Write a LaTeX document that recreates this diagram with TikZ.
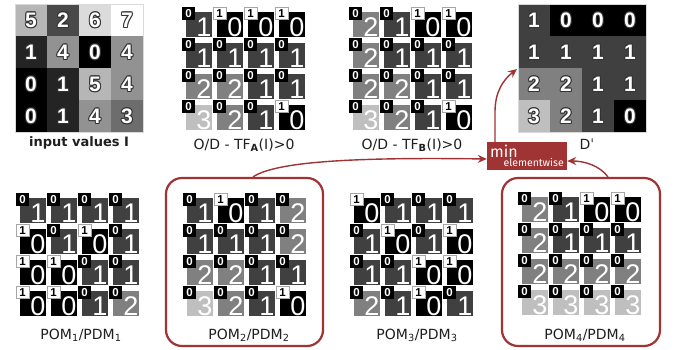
\documentclass[tikz,border=0pt]{standalone}
\usepackage{fontspec}
\setmainfont{DejaVu Sans}
\newfontfamily\arialf{Liberation Sans}
\newfontfamily\firaf{Fira Sans}
\usetikzlibrary{arrows.meta}
\definecolor{pomred}{RGB}{160,52,52}
\definecolor{lbltext}{gray}{0.12}

\tikzset{
  dnum/.style={font=\arialf\fontsize{27}{27}\selectfont, text=white, inner sep=0pt},
  onum/.style={font=\arialf\bfseries\fontsize{11.5}{11.5}\selectfont, inner sep=0pt, anchor=base},
  bnum/.style={font=\arialf\bfseries\fontsize{21}{21}\selectfont, inner sep=0pt, anchor=base},
  lbl/.style={font=\fontsize{14}{14}\selectfont, inner sep=0pt, anchor=base, text=lbltext},
  pombox/.style={draw=pomred, line width=2.2pt, rounded corners=16pt, inner sep=0pt},
  conn/.style={draw=pomred, line width=1.4pt, -{Stealth[length=9pt,width=8pt]}},
}

\newcommand\outnum[3]{%
  \foreach \dx/\dy in {-1/0,1/0,0/-1,0/1,-0.7/-0.7,0.7/0.7,-0.7/0.7,0.7/-0.7}{%
    \node[bnum,text=black!80] at ({#1+\dx},{#2+\dy}) {#3};}%
  \node[bnum,text=white] at ({#1},{#2}) {#3};}

\newcommand\odcell[3]{%
  \pgfmathsetmacro\glev{#3/4}%
  \definecolor{dcol}{gray}{\glev}%
  \fill[dcol] ({#1+3.5},{#2+5}) rectangle ({#1+29.5},{#2+30});
  \node[dnum, anchor=base east] at ({#1+29.5},{#2+29.5}) {#3};
  \ifnum#3=0\relax
    \filldraw[fill=white, draw=gray!70, line width=0.5pt] ({#1},{#2}) rectangle ({#1+13},{#2+12.5});
    \node[onum,text=black] at ({#1+6.5},{#2+10.5}) {1};
  \else
    \fill[black] ({#1},{#2}) rectangle ({#1+13},{#2+12.5});
    \node[onum,text=white] at ({#1+6.5},{#2+10.5}) {0};
  \fi}

\newcommand\odgrid[3]{%
  \foreach \row [count=\r from 0] in {#3} {%
    \foreach \v [count=\c from 0] in \row {%
      \odcell{#1+31*\c}{#2+31*\r}{\v}}}}

\begin{document}
\begin{tikzpicture}[x=1pt,y=-1pt]
\useasboundingbox (0,0) rectangle (681,349);
\fill[white] (0,0) rectangle (681,349);

% input values
\foreach \row [count=\r from 0] in {{5,2,6,7},{1,4,0,4},{0,1,5,4},{0,1,4,3}} {
  \foreach \v [count=\c from 0] in \row {
    \pgfmathsetmacro\glev{\v/7}
    \definecolor{icol}{gray}{\glev}
    \fill[icol] ({15+32*\c},{4+32*\r}) rectangle ++(32,32);
    \outnum{15+32*\c+16}{4+32*\r+23.5}{\v}
  }
}
\draw[gray!30, line width=0.5pt] (15,4) rectangle (143,132);

% D'
\foreach \row [count=\r from 0] in {{1,0,0,0},{1,1,1,1},{2,2,1,1},{3,2,1,0}} {
  \foreach \v [count=\c from 0] in \row {
    \pgfmathsetmacro\glev{\v/4}
    \definecolor{icol}{gray}{\glev}
    \fill[icol] ({518+32*\c},{4+32*\r}) rectangle ++(32,32);
    \outnum{518+32*\c+16}{4+32*\r+23.5}{\v}
  }
}
\draw[gray!30, line width=0.5pt] (518,4) rectangle (646,132);

% O/D grids
\odgrid{182}{7}{{1,0,0,0},{1,1,1,1},{2,2,1,1},{3,2,1,0}}
\odgrid{349}{7}{{2,1,0,0},{2,1,1,1},{2,2,1,1},{3,2,1,0}}
\odgrid{16}{193}{{1,1,1,1},{0,1,0,1},{0,0,1,1},{0,0,1,2}}
\odgrid{183}{193}{{1,0,1,2},{1,1,1,2},{2,2,1,1},{3,2,1,0}}
\odgrid{350}{193}{{0,1,1,1},{1,0,1,0},{1,1,0,0},{2,1,0,1}}
\odgrid{518}{192}{{2,1,0,0},{2,1,1,1},{2,2,2,2},{3,3,3,3}}

% labels
\node[lbl, font=\bfseries\fontsize{13}{13}\selectfont] (linput) at (79,146) {input values I};
\node[lbl] (ltfa) at (244,149) {O/D - TF\textsubscript{\textbf{A}}(I)>0};
\node[lbl] (ltfb) at (412,149) {O/D - TF\textsubscript{\textbf{B}}(I)>0};
\node[lbl] (ldp) at (587,149) {Dˈ};
\node[lbl] (lp1) at (81,339) {POM\textsubscript{1}/PDM\textsubscript{1}};
\node[lbl] (lp2) at (249,339) {POM\textsubscript{2}/PDM\textsubscript{2}};
\node[lbl] (lp3) at (417,339) {POM\textsubscript{3}/PDM\textsubscript{3}};
\node[lbl] (lp4) at (585,339) {POM\textsubscript{4}/PDM\textsubscript{4}};

% boxes
\node[pombox, minimum width=157pt, minimum height=168pt] (pom2) at (244.5,262) {};
\node[pombox, minimum width=158pt, minimum height=168pt] (pom4) at (581,262) {};

% min box
\node[fill=pomred, minimum width=80pt, minimum height=28pt, inner sep=0pt] (minb) at (527,156) {};
\node[font=\firaf\fontsize{16}{16}\selectfont, text=white, inner sep=0pt, anchor=base west] (mint) at (490,157) {min};
\node[font=\firaf\fontsize{10.5}{10.5}\selectfont, text=white, inner sep=0pt, anchor=base east] (elw) at (564,166.5) {elementwise};

% connectors
\coordinate (dleft) at (517,69);
\draw[conn] ([xshift=8.5pt]pom2.north) .. controls (275,162) and (350,157) .. ([yshift=-3pt]minb.west);
\draw[conn] ([xshift=27pt]pom4.north) .. controls (600,166) and (585,161) .. ([yshift=-5pt]minb.east);
\draw[conn] ([xshift=-32pt]minb.north) -- (495,112) .. controls (495,92) and (503,80) .. (dleft);
\end{tikzpicture}
\end{document}
